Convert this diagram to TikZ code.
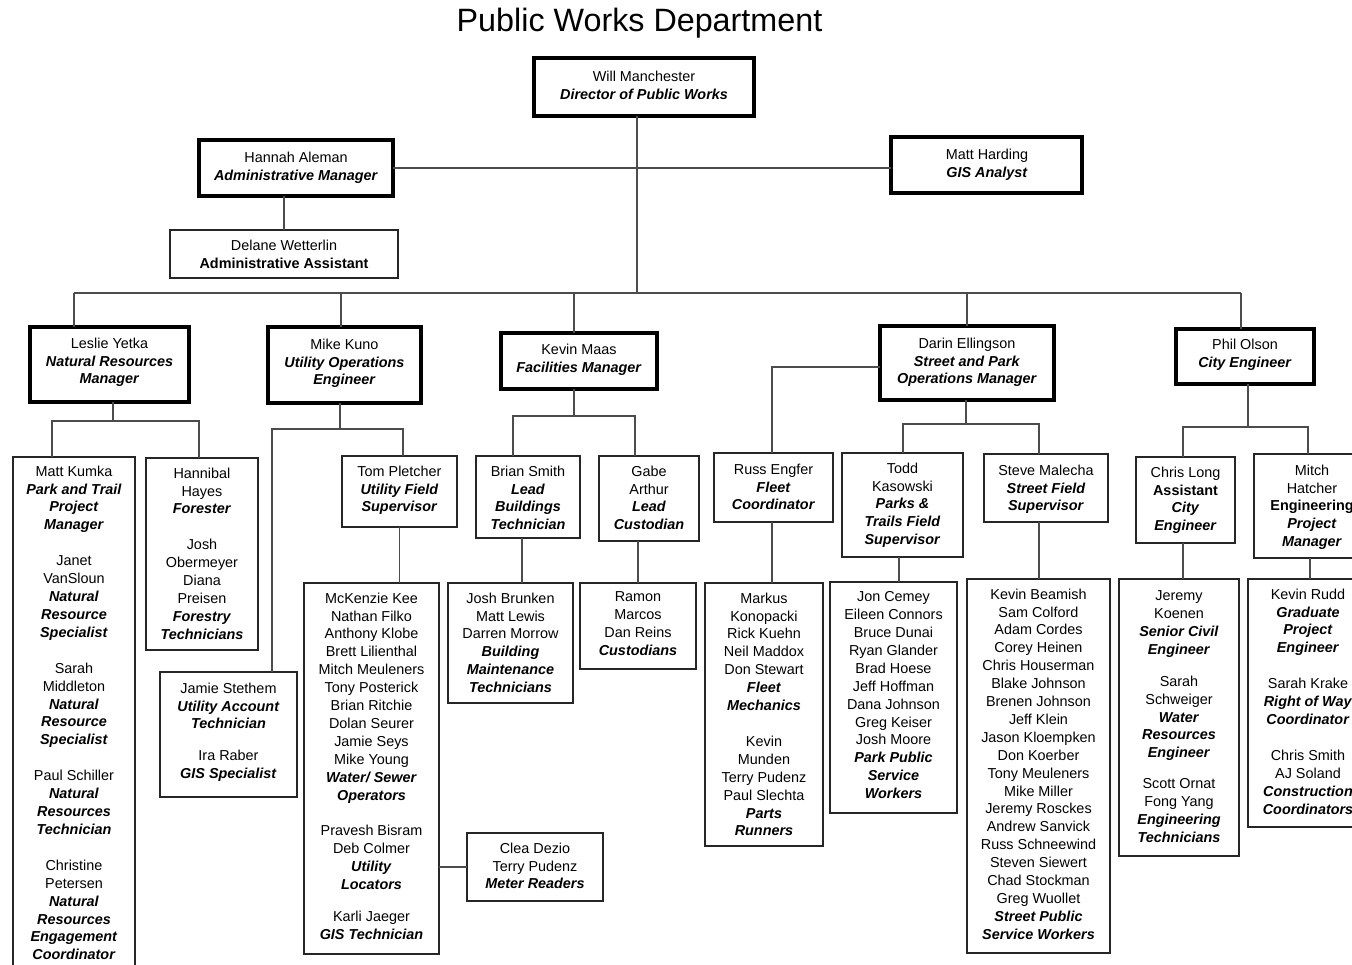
\documentclass[tikz,border=0pt]{standalone}
\usepackage{fontspec}
\setmainfont{Liberation Sans}
\usetikzlibrary{calc}

% bold italic job titles and bold upright titles
\newcommand\rl[1]{\textbf{\textit{#1}}}
\newcommand\bd[1]{\textbf{#1}}

% \orgbox{name}{style}{x1}{y1}{x2}{y2}: a box given by its corners
\newcommand\orgbox[6]{%
  \node[#2, minimum width={(#5-#3)*1pt}, minimum height={(#6-#4)*1pt}]
    (#1) at ({(#3+#5)/2},{(#4+#6)/2}) {};}
% \orgtext{name}{centre x}{first line y}{lines}
\newcommand\orgtext[4]{%
  \node[txt, anchor=north] (#1) at (#2,{#3-5.5}) {#4};}

\tikzset{
  thickbox/.style={draw=black, line width=4pt, inner sep=0pt, outer sep=0pt},
  thinbox/.style={draw=black!85, line width=1.3pt, inner sep=0pt, outer sep=0pt},
  conn/.style={draw=black!70, line width=1.2pt},
  txt/.style={align=center, inner sep=0pt, font=\fontsize{14.4}{17.9}\selectfont},
}

\begin{document}
\begin{tikzpicture}[x=1pt, y=-1pt]
\useasboundingbox (0,0) rectangle (1352,964);
\clip (0,0) rectangle (1352,964);

\node[anchor=base, font=\fontsize{32.3}{36}\selectfont] (title) at (639.5,31) {Public Works Department};

% ---- boxes ----
\orgbox{will}{thickbox}{534}{58}{754}{116}
\orgbox{hannah}{thickbox}{199}{140}{393}{196}
\orgbox{harding}{thickbox}{891}{137}{1082}{193}
\orgbox{delane}{thinbox}{170}{230}{398}{278}
\orgbox{leslie}{thickbox}{30}{327}{189}{402}
\orgbox{kuno}{thickbox}{268}{327}{421}{403}
\orgbox{maas}{thickbox}{501}{333}{657}{389}
\orgbox{darin}{thickbox}{880}{326}{1054}{400}
\orgbox{phil}{thickbox}{1176}{329}{1314}{384}
\orgbox{kumka}{thinbox}{13}{457}{135}{980}
\orgbox{hannibal}{thinbox}{146}{458}{258}{650}
\orgbox{tom}{thinbox}{342}{456}{457}{527}
\orgbox{jamie}{thinbox}{160}{672}{297}{797}
\orgbox{mckenzie}{thinbox}{304}{583}{439}{954}
\orgbox{meter}{thinbox}{467}{833}{603}{901}
\orgbox{brian}{thinbox}{476}{456}{580}{538}
\orgbox{gabe}{thinbox}{599}{456}{699}{541}
\orgbox{brunken}{thinbox}{448}{583}{573}{703}
\orgbox{ramon}{thinbox}{580}{583}{696}{669}
\orgbox{russ}{thinbox}{714}{453}{833}{522}
\orgbox{todd}{thinbox}{842}{453}{963}{557}
\orgbox{steve}{thinbox}{984}{454}{1108}{522}
\orgbox{markus}{thinbox}{705}{583}{823}{846}
\orgbox{jon}{thinbox}{830}{582}{957}{813}
\orgbox{beamish}{thinbox}{967}{579}{1110}{953}
\orgbox{chris}{thinbox}{1136}{457}{1235}{543}
\orgbox{mitch}{thinbox}{1254}{454}{1372}{558}
\orgbox{jeremy}{thinbox}{1119}{579}{1239}{856}
\orgbox{rudd}{thinbox}{1248}{579}{1370}{827}

% ---- texts ----
\orgtext{will-t}{644}{76}{Will Manchester\\ \rl{Director of Public Works}}
\orgtext{hannah-t}{296}{157}{Hannah Aleman\\ \rl{Administrative Manager}}
\orgtext{harding-t}{987}{154}{Matt Harding\\ \rl{GIS Analyst}}
\orgtext{delane-t}{284}{245}{Delane Wetterlin\\ \bd{Administrative Assistant}}
\orgtext{leslie-t}{109.5}{343}{Leslie Yetka\\ \rl{Natural Resources}\\ \rl{Manager}}
\orgtext{kuno-t}{344.5}{344}{Mike Kuno\\ \rl{Utility Operations}\\ \rl{Engineer}}
\orgtext{maas-t}{579}{349}{Kevin Maas\\ \rl{Facilities Manager}}
\orgtext{darin-t}{967}{343}{Darin Ellingson\\ \rl{Street and Park}\\ \rl{Operations Manager}}
\orgtext{phil-t}{1245}{344}{Phil Olson\\ \rl{City Engineer}}

\orgtext{kumka-t}{74}{471}{Matt Kumka\\ \rl{Park and Trail}\\ \rl{Project}\\ \rl{Manager}\\[18pt]
  Janet\\ VanSloun\\ \rl{Natural}\\ \rl{Resource}\\ \rl{Specialist}\\[18pt]
  Sarah\\ Middleton\\ \rl{Natural}\\ \rl{Resource}\\ \rl{Specialist}\\[18pt]
  Paul Schiller\\ \rl{Natural}\\ \rl{Resources}\\ \rl{Technician}\\[18pt]
  Christine\\ Petersen\\ \rl{Natural}\\ \rl{Resources}\\ \rl{Engagement}\\ \rl{Coordinator}}
\orgtext{hannibal-t}{202}{473}{Hannibal\\ Hayes\\ \rl{Forester}\\[18pt]
  Josh\\ Obermeyer\\ Diana\\ Preisen\\ \rl{Forestry}\\ \rl{Technicians}}
\orgtext{tom-t}{399.5}{471}{Tom Pletcher\\ \rl{Utility Field}\\ \rl{Supervisor}}
\orgtext{jamie-t}{228.5}{688}{Jamie Stethem\\ \rl{Utility Account}\\ \rl{Technician}\\[14pt]
  Ira Raber\\ \rl{GIS Specialist}}
\orgtext{mckenzie-t}{371.5}{598}{McKenzie Kee\\ Nathan Filko\\ Anthony Klobe\\ Brett Lilienthal\\
  Mitch Meuleners\\ Tony Posterick\\ Brian Ritchie\\ Dolan Seurer\\ Jamie Seys\\ Mike Young\\
  \rl{Water/ Sewer}\\ \rl{Operators}\\[18pt]
  Pravesh Bisram\\ Deb Colmer\\ \rl{Utility}\\ \rl{Locators}\\[14pt]
  Karli Jaeger\\ \rl{GIS Technician}}
\orgtext{meter-t}{535}{848}{Clea Dezio\\ Terry Pudenz\\ \rl{Meter Readers}}
\orgtext{brian-t}{528}{471}{Brian Smith\\ \rl{Lead}\\ \rl{Buildings}\\ \rl{Technician}}
\orgtext{gabe-t}{649}{471}{Gabe\\ Arthur\\ \rl{Lead}\\ \rl{Custodian}}
\orgtext{brunken-t}{510.5}{598}{Josh Brunken\\ Matt Lewis\\ Darren Morrow\\ \rl{Building}\\ \rl{Maintenance}\\ \rl{Technicians}}
\orgtext{ramon-t}{638}{597}{Ramon\\ Marcos\\ Dan Reins\\ \rl{Custodians}}
\orgtext{russ-t}{773.5}{469}{Russ Engfer\\ \rl{Fleet}\\ \rl{Coordinator}}
\orgtext{todd-t}{902.5}{468}{Todd\\ Kasowski\\ \rl{Parks \&}\\ \rl{Trails Field}\\ \rl{Supervisor}}
\orgtext{steve-t}{1046}{470}{Steve Malecha\\ \rl{Street Field}\\ \rl{Supervisor}}
\orgtext{markus-t}{764}{598}{Markus\\ Konopacki\\ Rick Kuehn\\ Neil Maddox\\ Don Stewart\\ \rl{Fleet}\\ \rl{Mechanics}\\[18pt]
  Kevin\\ Munden\\ Terry Pudenz\\ Paul Slechta\\ \rl{Parts}\\ \rl{Runners}}
\orgtext{jon-t}{893.5}{597}{Jon Cemey\\ Eileen Connors\\ Bruce Dunai\\ Ryan Glander\\ Brad Hoese\\ Jeff Hoffman\\
  Dana Johnson\\ Greg Keiser\\ Josh Moore\\ \rl{Park Public}\\ \rl{Service}\\ \rl{Workers}}
\orgtext{beamish-t}{1038.5}{594}{Kevin Beamish\\ Sam Colford\\ Adam Cordes\\ Corey Heinen\\ Chris Houserman\\
  Blake Johnson\\ Brenen Johnson\\ Jeff Klein\\ Jason Kloempken\\ Don Koerber\\ Tony Meuleners\\
  Mike Miller\\ Jeremy Rosckes\\ Andrew Sanvick\\ Russ Schneewind\\ Steven Siewert\\ Chad Stockman\\
  Greg Wuollet\\ \rl{Street Public}\\ \rl{Service Workers}}
\orgtext{chris-t}{1185.5}{472}{Chris Long\\ \bd{Assistant}\\ \rl{City}\\ \rl{Engineer}}
\orgtext{mitch-t}{1312}{470}{Mitch\\ Hatcher\\ \bd{Engineering}\\ \rl{Project}\\ \rl{Manager}}
\orgtext{jeremy-t}{1179}{596}{Jeremy\\ Koenen\\ \rl{Senior Civil}\\ \rl{Engineer}\\[14pt]
  Sarah\\ Schweiger\\ \rl{Water}\\ \rl{Resources}\\ \rl{Engineer}\\[13pt]
  Scott Ornat\\ Fong Yang\\ \rl{Engineering}\\ \rl{Technicians}}
\orgtext{rudd-t}{1308}{594}{Kevin Rudd\\ \rl{Graduate}\\ \rl{Project}\\ \rl{Engineer}\\[18pt]
  Sarah Krake\\ \rl{Right of Way}\\ \rl{Coordinator}\\[18pt]
  Chris Smith\\ AJ Soland\\ \rl{Construction}\\ \rl{Coordinators}}

% ---- junction points ----
\coordinate (busM) at (637,293);
\coordinate (busL) at (74,293);
\coordinate (busR) at (1241,293);
\coordinate (jK) at (341,293);
\coordinate (jM) at (574,293);
\coordinate (lM) at (113,421);
\coordinate (lA) at (52,421);
\coordinate (lB) at (199,421);
\coordinate (kM) at (340,429);
\coordinate (kA) at (272,429);
\coordinate (kB) at (403,429);
\coordinate (fM) at (574,416);
\coordinate (fA) at (513,416);
\coordinate (fB) at (635,416);
\coordinate (bJ) at (522,560);
\coordinate (dW) at (772,367);
\coordinate (dM) at (966,424);
\coordinate (dA) at (903,424);
\coordinate (dB) at (1039,424);
\coordinate (tJ) at (899,570);
\coordinate (pM) at (1248,427);
\coordinate (pA) at (1183,427);
\coordinate (pB) at (1308,427);
\coordinate (mJ) at (1310,570);

% ---- connectors ----
\draw[conn] (will.south -| busM) -- (busM);
\draw[conn] (hannah.east) -- (hannah.east -| harding.west);
\draw[conn] (delane.north) -- (delane.north |- hannah.south);
\draw[conn] (busL) -- (busR);
\draw[conn] (busL) -- (busL |- leslie.north);
\draw[conn] (jK) -- (jK |- kuno.north);
\draw[conn] (jM) -- (jM |- maas.north);
\draw[conn] (darin.north |- busM) -- (darin.north);
\draw[conn] (busR) -- (busR |- phil.north);

\draw[conn] (leslie.south -| lM) -- (lM);
\draw[conn] (kumka.north -| lA) -- (lA) -- (lB) -- (hannibal.north -| lB);

\draw[conn] (kuno.south -| kM) -- (kM);
\draw[conn] (jamie.north -| kA) -- (kA) -- (kB) -- (tom.north -| kB);
\draw[conn] (tom.south) -- (tom.south |- mckenzie.north);
\draw[conn] (mckenzie.east |- meter.west) -- (meter.west);

\draw[conn] (maas.south -| fM) -- (fM);
\draw[conn] (brian.north -| fA) -- (fA) -- (fB) -- (gabe.north -| fB);
\draw[conn] (brian.south -| bJ) -- (brunken.north -| bJ);
\draw[conn] (ramon.north) -- (ramon.north |- gabe.south);

\draw[conn] (darin.west |- dW) -- (dW) -- (russ.north -| dW);
\draw[conn] (darin.south -| dM) -- (dM);
\draw[conn] (todd.north -| dA) -- (dA) -- (dB) -- (steve.north -| dB);
\draw[conn] (russ.south -| dW) -- (markus.north -| dW);
\draw[conn] (todd.south -| tJ) -- (jon.north -| tJ);
\draw[conn] (steve.south -| dB) -- (beamish.north -| dB);

\draw[conn] (phil.south -| pM) -- (pM);
\draw[conn] (chris.north -| pA) -- (pA) -- (pB) -- (mitch.north -| pB);
\draw[conn] (chris.south -| pA) -- (jeremy.north -| pA);
\draw[conn] (mitch.south -| mJ) -- (rudd.north -| mJ);
\end{tikzpicture}
\end{document}
